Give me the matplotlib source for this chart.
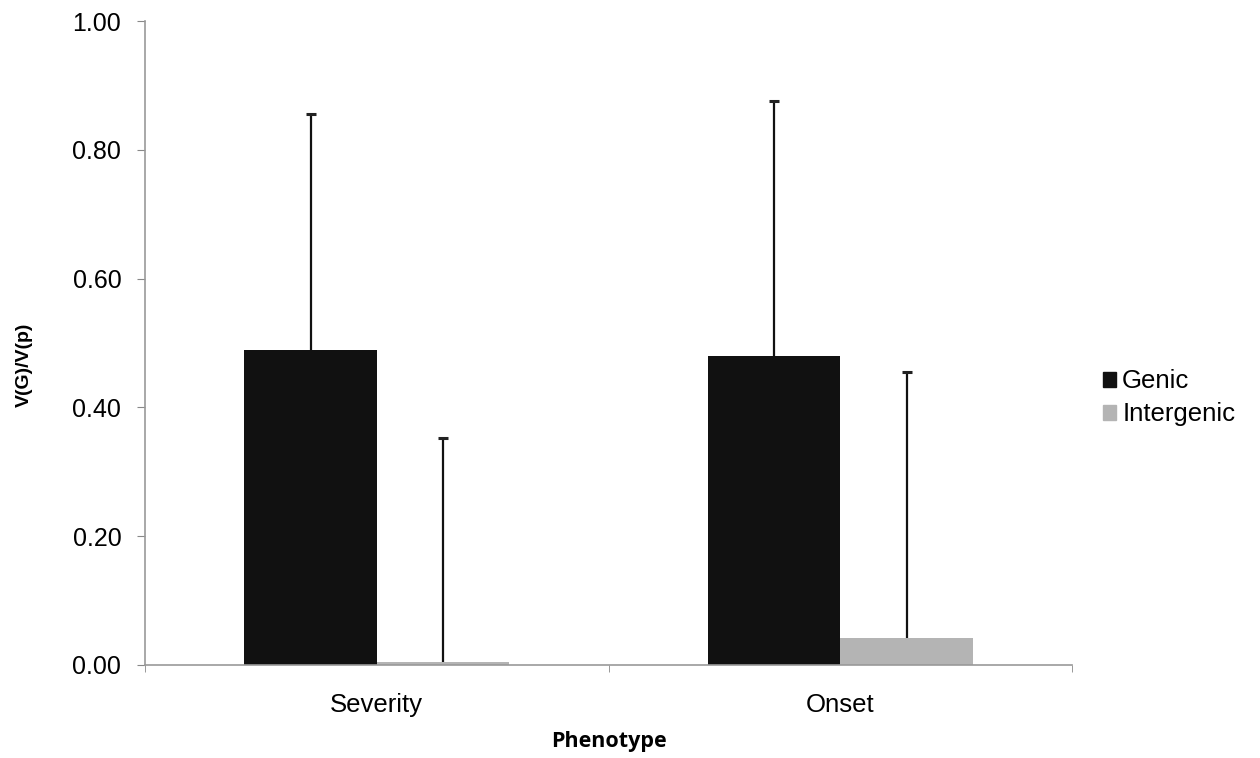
import numpy as np
import matplotlib.pyplot as plt
from matplotlib.patches import Patch

# dados
fenotipos = ['Severity', 'Onset']
genic = [0.489, 0.480]
genic_err = [0.367, 0.396]
intergenic = [0.004, 0.042]
intergenic_err = [0.349, 0.413]

plt.rcParams['font.family'] = ['Liberation Sans', 'DejaVu Sans']

fig = plt.figure(figsize=(12.6, 7.58), dpi=100)
ax = fig.add_axes([0.115, 0.1227, 0.736, 0.8495])

x = np.arange(len(fenotipos))
w = 0.2857
cor_genic = '#111111'
cor_inter = '#b4b4b4'


def barras(pos, vals, errs, cor):
    ax.bar(pos, vals, w, color=cor, zorder=2)
    topo = np.array(vals) + np.array(errs)
    # so a parte de cima do erro, sem cap embaixo
    ax.vlines(pos, vals, topo, color='#111111', lw=1.6, zorder=3)
    ax.plot(pos, topo, linestyle='none', marker='_', ms=7, mew=2.2,
            color='#222222', zorder=3)


barras(x - w / 2, genic, genic_err, cor_genic)
barras(x + w / 2, intergenic, intergenic_err, cor_inter)

ax.set_xlim(-0.5, 1.5)
ax.set_ylim(0, 1.0)
yt = np.arange(0, 1.01, 0.2)
ax.set_yticks(yt)
ax.set_yticklabels(['%.2f' % v for v in yt], fontsize=18)
ax.set_xticks(x)
ax.set_xticklabels(fenotipos, fontsize=18.5)
ax.set_xticks([-0.5, 0.5, 1.5], minor=True)
ax.tick_params(axis='x', which='major', length=0, pad=20)
ax.tick_params(axis='x', which='minor', length=5, color='#888888', direction='out')
ax.tick_params(axis='y', length=6, color='#888888', direction='out', pad=11)

for s in ['top', 'right']:
    ax.spines[s].set_visible(False)
for s in ['left', 'bottom']:
    ax.spines[s].set_color('#999999')
    ax.spines[s].set_linewidth(1.2)

ax.set_ylabel('V(G)/V(p)', fontsize=14, fontweight='bold')
ax.yaxis.set_label_coords(-0.121, 0.466)
ax.set_xlabel('Phenotype', fontsize=15.5, fontweight='bold', labelpad=10,
              family=['Open Sans', 'DejaVu Sans'])

handles = [Patch(color=cor_genic, label='Genic'),
           Patch(color=cor_inter, label='Intergenic')]
fig.legend(handles=handles, loc='center left', bbox_to_anchor=(0.857, 0.475),
           frameon=False, fontsize=18.5, handlelength=0.5, handleheight=0.5,
           handletextpad=0.25, labelspacing=0.35)

plt.savefig('out.png')
